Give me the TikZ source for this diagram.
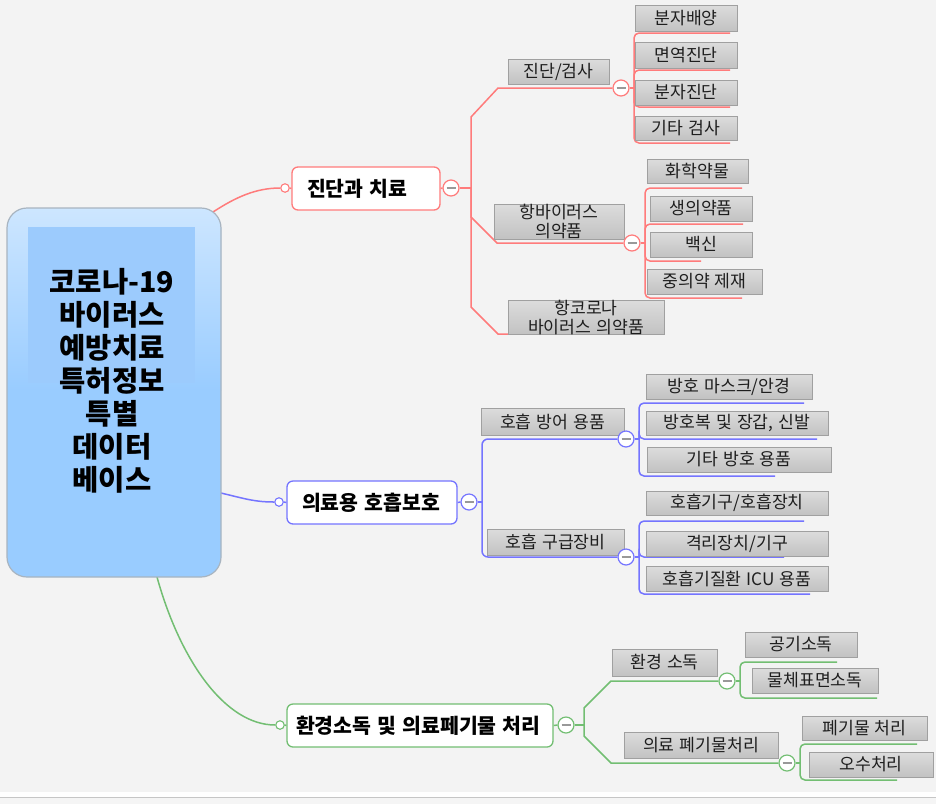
\documentclass[tikz,border=0pt]{standalone}
\usepackage{fontspec}
\setmainfont[WordSpace=1.3]{Noto Sans CJK KR}
\definecolor{bgc}{HTML}{F3F3F3}
\definecolor{redl}{HTML}{FF7B7B}
\definecolor{bluel}{HTML}{7474FF}
\definecolor{greenl}{HTML}{72BE72}
\definecolor{boxtop}{HTML}{DCDCDC}
\definecolor{boxbot}{HTML}{C2C2C2}
\definecolor{boxedge}{HTML}{A0A0A0}
\definecolor{roottop}{HTML}{CDE6FF}
\definecolor{rootmain}{HTML}{99CCFF}
\definecolor{rootin}{HTML}{9CCBFD}
\definecolor{rootedge}{HTML}{A8B4C0}
\definecolor{txt}{HTML}{1E1E1E}
\pgfdeclarelayer{back}
\pgfdeclarelayer{lines}
\pgfsetlayers{back,lines,main}
\begin{document}
\begin{tikzpicture}[x=1pt,y=-1pt,
 gbox/.style={draw=boxedge, line width=0.9pt, top color=boxtop, bottom color=boxbot, inner sep=0pt, align=center, text=txt, font=\fontsize{17.2}{19}\selectfont},
 lone/.style={draw=#1, fill=white, rounded corners=6pt, line width=1.3pt, minimum height=43pt, inner ysep=0pt, font=\fontsize{20.5}{24}\selectfont\bfseries, align=flush left},
 colr/.style={circle, draw=#1, fill=white, line width=1.2pt, minimum size=16pt, inner sep=0pt, path picture={\draw[gray!80, line width=1.6pt] ([xshift=-4.5pt]path picture bounding box.center) -- ([xshift=4.5pt]path picture bounding box.center);}},
 opendot/.style={circle, draw=#1, fill=white, line width=1.1pt, minimum size=8.5pt, inner sep=0pt},
 cn/.style={draw=#1, line width=1.5pt},
]
\useasboundingbox (0,0) rectangle (936,804);
\begin{pgfonlayer}{back}
\fill[bgc] (0,0) rectangle (936,792);
\fill[white] (0,792) rectangle (936,797);
\fill[gray!8] (0,798) rectangle (936,804);
\draw[gray!45, line width=1pt] (0,797.5) -- (936,797.5);
\end{pgfonlayer}

% root box
\fill[rootmain, rounded corners=20pt] (7,208) rectangle (221,577);
\begin{scope}
\clip[rounded corners=20pt] (7,208) rectangle (221,577);
\shade[top color=roottop, bottom color=rootmain] (7,208) rectangle (221,390);
\end{scope}
\fill[rootin] (28,227) rectangle (195,383);
\draw[rootedge, line width=1.2pt, rounded corners=20pt] (7,208) rectangle (221,577);
\node[font=\fontsize{28.6}{33}\selectfont\bfseries, align=center, text=black] (root) at (112,381) {코로나-19\\바이러스\\예방치료\\특허정보\\특별\\데이터\\베이스};

% level 1
\node[lone=redl, text width=118pt, inner xsep=15pt] (L1) at (366,188.5) {진단과 치료};
\node[lone=bluel, text width=140pt, inner xsep=15pt] (L2) at (372,502.5) {의료용 호흡보호};
\node[lone=greenl, text width=248pt, inner xsep=9pt] (L3) at (420,725.5) {환경소독 및 의료페기물 처리};
\node[opendot=redl] (s1) at (285,188) {};
\node[opendot=bluel] (s2) at (279,502) {};
\node[opendot=greenl] (s3) at (280,725) {};
\node[colr=redl] (k1) at (451,188) {};
\node[colr=bluel] (k2) at (469,502) {};
\node[colr=greenl] (k3) at (566,725) {};

% level 2
\node[gbox, minimum width=101pt, minimum height=25pt] (A1) at (558.5,71.5) {진단/검사};
\node[gbox, minimum width=130pt, minimum height=35pt] (A2) at (559,221.5) {항바이러스\\의약품};
\node[gbox, minimum width=156pt, minimum height=31pt] (A3) at (586,317.5) {항코로나\\바이러스 의약품};
\node[gbox, minimum width=143pt, minimum height=27pt] (B1) at (552.5,421.5) {호흡 방어 용품};
\node[gbox, minimum width=137pt, minimum height=26pt] (B2) at (555.5,542) {호흡 구급장비};
\node[gbox, minimum width=105pt, minimum height=27pt] (C1) at (664.5,662.5) {환경 소독};
\node[gbox, minimum width=154pt, minimum height=26pt] (C2) at (701,745) {의료 폐기물처리};
\node[colr=redl] (kA1) at (621,88) {};
\node[colr=redl] (kA2) at (632,243) {};
\node[colr=bluel] (kB1) at (626,439) {};
\node[colr=bluel] (kB2) at (626,557) {};
\node[colr=greenl] (kC1) at (727,681) {};
\node[colr=greenl] (kC2) at (787,763) {};

% leaves
\node[gbox, minimum width=102pt, minimum height=26pt] (a1) at (686,18) {분자배양};
\node[gbox, minimum width=102pt, minimum height=26pt] (a2) at (686,55) {면역진단};
\node[gbox, minimum width=102pt, minimum height=25pt] (a3) at (686,92.5) {분자진단};
\node[gbox, minimum width=102pt, minimum height=24pt] (a4) at (686,128) {기타 검사};
\node[gbox, minimum width=101pt, minimum height=24pt] (b1) at (697.5,171) {화학약물};
\node[gbox, minimum width=102pt, minimum height=25pt] (b2) at (701,208.5) {생의약품};
\node[gbox, minimum width=102pt, minimum height=25pt] (b3) at (701,244.5) {백신};
\node[gbox, minimum width=115pt, minimum height=25pt] (b4) at (704.5,281.5) {중의약 제재};
\node[gbox, minimum width=166pt, minimum height=25pt] (c1) at (729,386.5) {방호 마스크/안경};
\node[gbox, minimum width=182pt, minimum height=24pt] (c2) at (737,423) {방호복 및 장갑, 신발};
\node[gbox, minimum width=184pt, minimum height=25pt] (c3) at (739,459.5) {기타 방호 용품};
\node[gbox, minimum width=182pt, minimum height=24pt] (d1) at (737,503) {호흡기구/호흡장치};
\node[gbox, minimum width=182pt, minimum height=25pt] (d2) at (737,543.5) {격리장치/기구};
\node[gbox, minimum width=182pt, minimum height=25pt] (d3) at (737,578.5) {호흡기질환 ICU 용품};
\node[gbox, minimum width=112pt, minimum height=25pt] (e1) at (801,644.5) {공기소독};
\node[gbox, minimum width=126pt, minimum height=25pt] (e2) at (815,680.5) {물체표면소독};
\node[gbox, minimum width=125pt, minimum height=24pt] (f1) at (864.5,728) {폐기물 처리};
\node[gbox, minimum width=124pt, minimum height=25pt] (f2) at (871,764.5) {오수처리};

% junction and end coordinates
\coordinate (rA) at (213,212);
\coordinate (rB) at (221,493);
\coordinate (rC) at (157,577);
\coordinate (jA) at (471,188);
\coordinate (jB) at (482,502);
\coordinate (jC) at (584,725);
\coordinate (uA3) at (664,334);
\coordinate (jA1) at (634,88);
\coordinate (jA2) at (645,243);
\coordinate (jB1) at (639,439);
\coordinate (jB2) at (639,557);
\coordinate (jC1) at (740,681);
\coordinate (jC2) at (800,763);
\coordinate (ua1) at (730,33);
\coordinate (ua2) at (730,70);
\coordinate (ua3) at (730,107);
\coordinate (ua4) at (730,143);
\coordinate (ub1) at (742,188);
\coordinate (ub2) at (743,224);
\coordinate (ub3) at (701,261);
\coordinate (ub4) at (742,298);
\coordinate (uc1) at (804,403);
\coordinate (uc2) at (817,439);
\coordinate (uc3) at (775,476);
\coordinate (ud1) at (804,521);
\coordinate (ud2) at (784,557);
\coordinate (ud3) at (810,594);
\coordinate (ue1) at (837,662);
\coordinate (ue2) at (877,698);
\coordinate (uf1) at (917,744);
\coordinate (uf2) at (897,780);

\begin{pgfonlayer}{lines}
% root to level 1
\draw[cn=redl] (rA) .. controls (236,197) and (256,188) .. (s1.west);
\draw[cn=bluel] (rB) .. controls (246,499) and (255,502) .. (s2.west);
\draw[cn=greenl] (rC) .. controls (180,660) and (225,725) .. (s3.west);
\draw[cn=redl] (s1.east) -- (L1.west);
\draw[cn=bluel] (s2.east) -- (L2.west);
\draw[cn=greenl] (s3.east) -- (L3.west);
\draw[cn=redl] (L1.east) -- (k1.west);
\draw[cn=bluel] (L2.east) -- (k2.west);
\draw[cn=greenl] (L3.east) -- (k3.west);
% level 1 to level 2
\draw[cn=redl] (k1.east) -- (jA);
\draw[cn=redl] (jA) -- (471,117) -- (498,88) -- (kA1.west);
\draw[cn=redl] (jA) -- (471,217) -- (497,243) -- (kA2.west);
\draw[cn=redl] (jA) -- (471,307) -- (498,334) -- (uA3);
\draw[cn=bluel] (k2.east) -- (jB);
\draw[cn=bluel, rounded corners=6pt] (jB) |- (kB1.west);
\draw[cn=bluel, rounded corners=6pt] (jB) |- (kB2.west);
\draw[cn=greenl] (k3.east) -- (jC);
\draw[cn=greenl] (jC) -- (584,708) -- (611,681) -- (kC1.west);
\draw[cn=greenl] (jC) -- (584,736) -- (611,763) -- (kC2.west);
% level 2 to leaves
\draw[cn=redl] (kA1.east) -- (jA1);
\foreach \u in {ua1,ua2,ua3,ua4} \draw[cn=redl, rounded corners=5pt] (jA1) |- (\u);
\draw[cn=redl] (kA2.east) -- (jA2);
\foreach \u in {ub1,ub2,ub3,ub4} \draw[cn=redl, rounded corners=5pt] (jA2) |- (\u);
\draw[cn=bluel] (kB1.east) -- (jB1);
\foreach \u in {uc1,uc2,uc3} \draw[cn=bluel, rounded corners=5pt] (jB1) |- (\u);
\draw[cn=bluel] (kB2.east) -- (jB2);
\foreach \u in {ud1,ud2,ud3} \draw[cn=bluel, rounded corners=5pt] (jB2) |- (\u);
\draw[cn=greenl] (kC1.east) -- (jC1);
\foreach \u in {ue1,ue2} \draw[cn=greenl, rounded corners=5pt] (jC1) |- (\u);
\draw[cn=greenl] (kC2.east) -- (jC2);
\foreach \u in {uf1,uf2} \draw[cn=greenl, rounded corners=5pt] (jC2) |- (\u);
\end{pgfonlayer}
\end{tikzpicture}
\end{document}
